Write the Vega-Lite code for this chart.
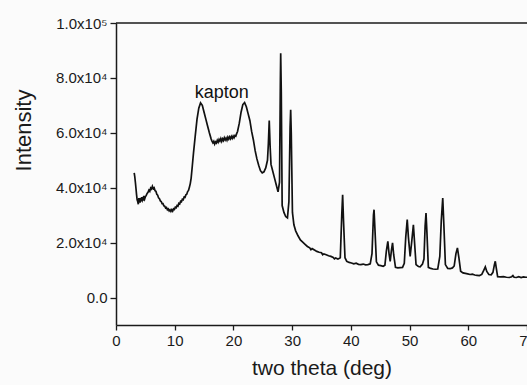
{
  "$schema": "https://vega.github.io/schema/vega-lite/v6.json",
  "width": 411,
  "height": 302,
  "autosize": "none",
  "padding": {"left": 116, "top": 23, "right": 0, "bottom": 60},
  "background": "#fbfbfb",
  "config": {
    "view": {"stroke": null},
    "font": "Liberation Sans",
    "axis": {
      "domainColor": "#1a1a1a",
      "domainWidth": 1.5,
      "tickColor": "#1a1a1a",
      "tickWidth": 1.3,
      "labelColor": "#1a1a1a",
      "titleColor": "#1a1a1a",
      "titleFontWeight": "normal",
      "grid": false
    }
  },
  "datasets": {
    "xrd": [
      {"theta": 3.1, "intensity": 45400}, {"theta": 3.2, "intensity": 44000}, {"theta": 3.3, "intensity": 42000}, {"theta": 3.4, "intensity": 39800}, {"theta": 3.5, "intensity": 37500},
      {"theta": 3.6, "intensity": 35600}, {"theta": 3.7, "intensity": 35000}, {"theta": 3.8, "intensity": 34000}, {"theta": 3.9, "intensity": 36200}, {"theta": 4.0, "intensity": 35400},
      {"theta": 4.1, "intensity": 34600}, {"theta": 4.2, "intensity": 36300}, {"theta": 4.3, "intensity": 35000}, {"theta": 4.4, "intensity": 36600}, {"theta": 4.5, "intensity": 35500},
      {"theta": 4.6, "intensity": 36100}, {"theta": 4.7, "intensity": 35300}, {"theta": 4.8, "intensity": 37000}, {"theta": 4.9, "intensity": 36000}, {"theta": 5.0, "intensity": 36700},
      {"theta": 5.15, "intensity": 37200}, {"theta": 5.3, "intensity": 37900}, {"theta": 5.45, "intensity": 38300}, {"theta": 5.6, "intensity": 39100}, {"theta": 5.75, "intensity": 38700},
      {"theta": 5.9, "intensity": 39900}, {"theta": 6.05, "intensity": 39500}, {"theta": 6.2, "intensity": 40500}, {"theta": 6.35, "intensity": 39700}, {"theta": 6.5, "intensity": 40000},
      {"theta": 6.65, "intensity": 38900}, {"theta": 6.8, "intensity": 38700}, {"theta": 6.95, "intensity": 37600}, {"theta": 7.1, "intensity": 37300}, {"theta": 7.25, "intensity": 36300},
      {"theta": 7.4, "intensity": 36000}, {"theta": 7.55, "intensity": 35200}, {"theta": 7.7, "intensity": 35000}, {"theta": 7.85, "intensity": 34200}, {"theta": 8.0, "intensity": 34200},
      {"theta": 8.15, "intensity": 33400}, {"theta": 8.3, "intensity": 33300}, {"theta": 8.45, "intensity": 32600}, {"theta": 8.6, "intensity": 32800}, {"theta": 8.75, "intensity": 32000},
      {"theta": 8.9, "intensity": 32300}, {"theta": 9.05, "intensity": 31600}, {"theta": 9.2, "intensity": 32000}, {"theta": 9.35, "intensity": 31400}, {"theta": 9.5, "intensity": 32000},
      {"theta": 9.65, "intensity": 31500}, {"theta": 9.8, "intensity": 32300}, {"theta": 9.95, "intensity": 32100}, {"theta": 10.1, "intensity": 32900}, {"theta": 10.25, "intensity": 32700},
      {"theta": 10.4, "intensity": 33500}, {"theta": 10.55, "intensity": 33300}, {"theta": 10.7, "intensity": 34300}, {"theta": 10.85, "intensity": 34100}, {"theta": 11.0, "intensity": 35100},
      {"theta": 11.15, "intensity": 34900}, {"theta": 11.3, "intensity": 35800}, {"theta": 11.45, "intensity": 35600}, {"theta": 11.6, "intensity": 36600}, {"theta": 11.75, "intensity": 36500},
      {"theta": 11.9, "intensity": 37400}, {"theta": 12.05, "intensity": 37600}, {"theta": 12.2, "intensity": 38600}, {"theta": 12.35, "intensity": 39000}, {"theta": 12.5, "intensity": 40200},
      {"theta": 12.65, "intensity": 41500}, {"theta": 12.8, "intensity": 43500}, {"theta": 13.0, "intensity": 48000}, {"theta": 13.2, "intensity": 52700},
      {"theta": 13.5, "intensity": 59000}, {"theta": 13.8, "intensity": 65000}, {"theta": 14.1, "intensity": 69000},
      {"theta": 14.4, "intensity": 70900}, {"theta": 14.7, "intensity": 70000}, {"theta": 15.0, "intensity": 67500},
      {"theta": 15.3, "intensity": 65000}, {"theta": 15.6, "intensity": 62500}, {"theta": 15.9, "intensity": 60000},
      {"theta": 16.2, "intensity": 57800}, {"theta": 16.35, "intensity": 57000}, {"theta": 16.5, "intensity": 56400}, {"theta": 16.65, "intensity": 56900}, {"theta": 16.8, "intensity": 55900},
      {"theta": 16.95, "intensity": 56700}, {"theta": 17.1, "intensity": 56300}, {"theta": 17.25, "intensity": 57300}, {"theta": 17.4, "intensity": 56600}, {"theta": 17.55, "intensity": 57600},
      {"theta": 17.7, "intensity": 57000}, {"theta": 17.85, "intensity": 57900}, {"theta": 18.0, "intensity": 56900}, {"theta": 18.15, "intensity": 57800}, {"theta": 18.3, "intensity": 57200},
      {"theta": 18.45, "intensity": 58200}, {"theta": 18.6, "intensity": 57400}, {"theta": 18.75, "intensity": 58100}, {"theta": 18.9, "intensity": 57300}, {"theta": 19.05, "intensity": 58400},
      {"theta": 19.2, "intensity": 57700}, {"theta": 19.35, "intensity": 58500}, {"theta": 19.5, "intensity": 57800}, {"theta": 19.65, "intensity": 58700}, {"theta": 19.8, "intensity": 58000},
      {"theta": 19.95, "intensity": 58800}, {"theta": 20.1, "intensity": 58200}, {"theta": 20.25, "intensity": 59000}, {"theta": 20.4, "intensity": 58800}, {"theta": 20.55, "intensity": 59700},
      {"theta": 20.7, "intensity": 60500}, {"theta": 21.0, "intensity": 63500}, {"theta": 21.3, "intensity": 67500},
      {"theta": 21.6, "intensity": 70300}, {"theta": 21.9, "intensity": 71000}, {"theta": 22.2, "intensity": 69500},
      {"theta": 22.5, "intensity": 67000}, {"theta": 22.8, "intensity": 64500}, {"theta": 23.1, "intensity": 60500},
      {"theta": 23.4, "intensity": 57400}, {"theta": 23.7, "intensity": 53500}, {"theta": 24.0, "intensity": 50500},
      {"theta": 24.3, "intensity": 48200}, {"theta": 24.6, "intensity": 46200}, {"theta": 24.9, "intensity": 45400},
      {"theta": 25.2, "intensity": 45800}, {"theta": 25.5, "intensity": 47200}, {"theta": 25.8, "intensity": 50000},
      {"theta": 25.95, "intensity": 56000}, {"theta": 26.1, "intensity": 64500}, {"theta": 26.25, "intensity": 55000},
      {"theta": 26.4, "intensity": 48500}, {"theta": 26.7, "intensity": 46000}, {"theta": 27.0, "intensity": 43500},
      {"theta": 27.3, "intensity": 41000}, {"theta": 27.6, "intensity": 38500}, {"theta": 27.85, "intensity": 42000},
      {"theta": 28.0, "intensity": 80000}, {"theta": 28.05, "intensity": 89000}, {"theta": 28.15, "intensity": 75000},
      {"theta": 28.3, "intensity": 33500}, {"theta": 28.6, "intensity": 31000}, {"theta": 28.9, "intensity": 29500},
      {"theta": 29.2, "intensity": 29000}, {"theta": 29.45, "intensity": 35000}, {"theta": 29.65, "intensity": 62000},
      {"theta": 29.75, "intensity": 68400}, {"theta": 29.85, "intensity": 60000}, {"theta": 30.05, "intensity": 31000},
      {"theta": 30.3, "intensity": 26500}, {"theta": 30.6, "intensity": 24300}, {"theta": 31.0, "intensity": 22500},
      {"theta": 31.4, "intensity": 21000}, {"theta": 31.8, "intensity": 20200}, {"theta": 32.2, "intensity": 19400},
      {"theta": 32.6, "intensity": 18600}, {"theta": 33.0, "intensity": 18100}, {"theta": 33.2, "intensity": 17400}, {"theta": 33.4, "intensity": 17800},
      {"theta": 33.8, "intensity": 17300}, {"theta": 34.2, "intensity": 16800}, {"theta": 34.6, "intensity": 16500},
      {"theta": 35.0, "intensity": 16300}, {"theta": 35.2, "intensity": 15600}, {"theta": 35.4, "intensity": 15900}, {"theta": 35.8, "intensity": 15600},
      {"theta": 36.2, "intensity": 15200}, {"theta": 36.6, "intensity": 15000}, {"theta": 37.0, "intensity": 14600}, {"theta": 37.2, "intensity": 14100},
      {"theta": 37.4, "intensity": 14400}, {"theta": 37.8, "intensity": 14000}, {"theta": 38.2, "intensity": 14500},
      {"theta": 38.45, "intensity": 30000}, {"theta": 38.6, "intensity": 37400}, {"theta": 38.75, "intensity": 28000},
      {"theta": 39.0, "intensity": 14500}, {"theta": 39.3, "intensity": 13200}, {"theta": 39.7, "intensity": 12800},
      {"theta": 40.1, "intensity": 12600}, {"theta": 40.5, "intensity": 12300}, {"theta": 40.9, "intensity": 12500},
      {"theta": 41.3, "intensity": 12100}, {"theta": 41.7, "intensity": 12000}, {"theta": 42.1, "intensity": 12200},
      {"theta": 42.5, "intensity": 11900}, {"theta": 42.9, "intensity": 12000}, {"theta": 43.3, "intensity": 12300},
      {"theta": 43.6, "intensity": 16000}, {"theta": 43.85, "intensity": 30000}, {"theta": 43.95, "intensity": 32000},
      {"theta": 44.1, "intensity": 25000}, {"theta": 44.35, "intensity": 13000}, {"theta": 44.7, "intensity": 11800},
      {"theta": 45.1, "intensity": 11600}, {"theta": 45.5, "intensity": 11400}, {"theta": 45.8, "intensity": 11800},
      {"theta": 46.05, "intensity": 17000}, {"theta": 46.3, "intensity": 20500}, {"theta": 46.5, "intensity": 16000},
      {"theta": 46.7, "intensity": 13200}, {"theta": 46.9, "intensity": 17000}, {"theta": 47.1, "intensity": 19900},
      {"theta": 47.3, "intensity": 15500}, {"theta": 47.6, "intensity": 11000}, {"theta": 48.0, "intensity": 10800},
      {"theta": 48.4, "intensity": 10900}, {"theta": 48.8, "intensity": 11000}, {"theta": 49.1, "intensity": 12500},
      {"theta": 49.35, "intensity": 22000}, {"theta": 49.6, "intensity": 28400}, {"theta": 49.8, "intensity": 22000},
      {"theta": 50.1, "intensity": 15000}, {"theta": 50.35, "intensity": 20000}, {"theta": 50.65, "intensity": 26500},
      {"theta": 50.85, "intensity": 20000}, {"theta": 51.1, "intensity": 12000}, {"theta": 51.5, "intensity": 11300},
      {"theta": 51.8, "intensity": 11200}, {"theta": 52.2, "intensity": 12200}, {"theta": 52.45, "intensity": 14000},
      {"theta": 52.65, "intensity": 26000}, {"theta": 52.8, "intensity": 30800}, {"theta": 52.95, "intensity": 24000},
      {"theta": 53.2, "intensity": 11000}, {"theta": 53.6, "intensity": 10600}, {"theta": 54.0, "intensity": 10400},
      {"theta": 54.4, "intensity": 10300}, {"theta": 54.8, "intensity": 10400}, {"theta": 55.15, "intensity": 15000},
      {"theta": 55.4, "intensity": 28000}, {"theta": 55.65, "intensity": 36200}, {"theta": 55.85, "intensity": 26000},
      {"theta": 56.1, "intensity": 12000}, {"theta": 56.5, "intensity": 10600}, {"theta": 56.9, "intensity": 10500},
      {"theta": 57.3, "intensity": 10800}, {"theta": 57.6, "intensity": 11500}, {"theta": 57.9, "intensity": 16000},
      {"theta": 58.15, "intensity": 18100}, {"theta": 58.4, "intensity": 14500}, {"theta": 58.7, "intensity": 9600},
      {"theta": 59.1, "intensity": 9000}, {"theta": 59.5, "intensity": 8800}, {"theta": 59.9, "intensity": 8600},
      {"theta": 60.3, "intensity": 8400}, {"theta": 60.7, "intensity": 8500}, {"theta": 61.1, "intensity": 8200},
      {"theta": 61.5, "intensity": 8100}, {"theta": 61.9, "intensity": 8000}, {"theta": 62.3, "intensity": 8400},
      {"theta": 62.65, "intensity": 10000}, {"theta": 62.9, "intensity": 11200}, {"theta": 63.15, "intensity": 9500},
      {"theta": 63.5, "intensity": 8400}, {"theta": 63.9, "intensity": 8300}, {"theta": 64.2, "intensity": 9200},
      {"theta": 64.45, "intensity": 12000}, {"theta": 64.6, "intensity": 13200}, {"theta": 64.75, "intensity": 11000},
      {"theta": 65.0, "intensity": 7600}, {"theta": 65.5, "intensity": 7500}, {"theta": 66.0, "intensity": 7600},
      {"theta": 66.5, "intensity": 7400}, {"theta": 67.0, "intensity": 7300}, {"theta": 67.4, "intensity": 7600},
      {"theta": 67.6, "intensity": 8000}, {"theta": 67.8, "intensity": 7400}, {"theta": 68.2, "intensity": 7300},
      {"theta": 68.6, "intensity": 7600}, {"theta": 69.0, "intensity": 7300}, {"theta": 69.4, "intensity": 7500},
      {"theta": 69.8, "intensity": 7400}, {"theta": 70.0, "intensity": 7400}
    ],
    "notes": [{"theta": 18.0, "intensity": 72700, "label": "kapton"}],
    "frame": [{"intensity": 100000}]
  },
  "layer": [
    {
      "data": {"name": "xrd"},
      "mark": {"type": "line", "color": "#111111", "strokeWidth": 1.7, "clip": true, "interpolate": "linear"},
      "encoding": {
        "x": {
          "field": "theta",
          "type": "quantitative",
          "scale": {"domain": [0, 70], "nice": false, "zero": false},
          "axis": {
            "title": "two theta (deg)",
            "values": [0, 5, 10, 15, 20, 25, 30, 35, 40, 45, 50, 55, 60, 65, 70],
            "labelExpr": "datum.value % 10 === 0 ? datum.label : ''",
            "labelFlush": false,
            "labelOverlap": false,
            "labelFontSize": 15,
            "labelPadding": 3,
            "tickSize": {"condition": {"test": "datum.value % 10 !== 0", "value": 3}, "value": 5},
            "titleFontSize": 21,
            "titleY": 49,
            "titleBaseline": "alphabetic"
          }
        },
        "y": {
          "field": "intensity",
          "type": "quantitative",
          "scale": {"domain": [-10000, 100000], "nice": false, "zero": false},
          "axis": {
            "title": "Intensity",
            "values": [0, 10000, 20000, 30000, 40000, 50000, 60000, 70000, 80000, 90000, 100000],
            "labelExpr": "datum.value === 0 ? '0.0' : (datum.value % 20000 !== 0 ? '' : (datum.value === 100000 ? '1.0x10⁵' : format(datum.value / 10000, '.1f') + 'x10⁴'))",
            "labelOverlap": false,
            "labelFontSize": 15,
            "labelPadding": 3,
            "tickSize": {"condition": {"test": "datum.value % 20000 !== 0", "value": 3}, "value": 6},
            "titleFontSize": 22,
            "titleAngle": -90,
            "titleX": -93,
            "titleY": 107,
            "titleAlign": "center",
            "titleBaseline": "middle"
          }
        }
      }
    },
    {
      "data": {"name": "notes"},
      "mark": {"type": "text", "fontSize": 18, "color": "#111111", "align": "center", "baseline": "alphabetic"},
      "encoding": {
        "x": {"field": "theta", "type": "quantitative"},
        "y": {"field": "intensity", "type": "quantitative"},
        "text": {"field": "label", "type": "nominal"}
      }
    },
    {
      "data": {"name": "frame"},
      "mark": {"type": "rule", "color": "#1a1a1a", "strokeWidth": 1.5},
      "encoding": {
        "y": {"field": "intensity", "type": "quantitative"}
      }
    }
  ]
}
